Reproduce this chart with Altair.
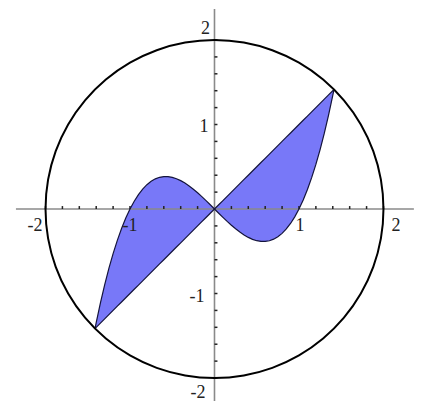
import altair as alt
import pandas as pd

curve_x = [-1.4142, -1.4, -1.35, -1.3, -1.25, -1.2, -1.15, -1.1, -1.05, -1.0, -0.95, -0.9, -0.85, -0.8, -0.75, -0.7,
           -0.65, -0.6, -0.55, -0.5, -0.45, -0.4, -0.35, -0.3, -0.25, -0.2, -0.15, -0.1, -0.05, 0.0,
           0.05, 0.1, 0.15, 0.2, 0.25, 0.3, 0.35, 0.4, 0.45, 0.5, 0.55, 0.6, 0.65, 0.7, 0.75, 0.8,
           0.85, 0.9, 0.95, 1.0, 1.05, 1.1, 1.15, 1.2, 1.25, 1.3, 1.35, 1.4, 1.4142]
curve_y = [-1.4142, -1.344, -1.1104, -0.897, -0.7031, -0.528, -0.3709, -0.231, -0.1076, 0.0, 0.0926, 0.171, 0.2359,
           0.288, 0.3281, 0.357, 0.3754, 0.384, 0.3836, 0.375, 0.3589, 0.336, 0.3071, 0.273, 0.2344, 0.192, 0.1466,
           0.099, 0.0499, 0.0,
           -0.0499, -0.099, -0.1466, -0.192, -0.2344, -0.273, -0.3071, -0.336, -0.3589, -0.375, -0.3836, -0.384,
           -0.3754, -0.357, -0.3281, -0.288, -0.2359, -0.171, -0.0926, 0.0, 0.1076, 0.231, 0.3709, 0.528, 0.7031,
           0.897, 1.1104, 1.344, 1.4142]
line_y = curve_x

circle_x = [2, 1.9696, 1.8794, 1.7321, 1.5321, 1.2856, 1.0, 0.6840, 0.3473, 0, -0.3473, -0.6840, -1.0, -1.2856,
            -1.5321, -1.7321, -1.8794, -1.9696, -2, -1.9696, -1.8794, -1.7321, -1.5321, -1.2856, -1.0, -0.6840,
            -0.3473, 0, 0.3473, 0.6840, 1.0, 1.2856, 1.5321, 1.7321, 1.8794, 1.9696]
circle_y = [0, 0.3473, 0.6840, 1.0, 1.2856, 1.5321, 1.7321, 1.8794, 1.9696, 2, 1.9696, 1.8794, 1.7321, 1.5321,
            1.2856, 1.0, 0.6840, 0.3473, 0, -0.3473, -0.6840, -1.0, -1.2856, -1.5321, -1.7321, -1.8794, -1.9696,
            -2, -1.9696, -1.8794, -1.7321, -1.5321, -1.2856, -1.0, -0.6840, -0.3473]

tick_vals = [-2.0, -1.8, -1.6, -1.4, -1.2, -1.0, -0.8, -0.6, -0.4, -0.2, 0.2, 0.4, 0.6, 0.8, 1.0, 1.2, 1.4, 1.6, 1.8, 2.0]
label_vals = [-2, -1, 1, 2]
label_text = ["-2", "-1", "1", "2"]

X_DOM = [-2.444, 2.385]
Y_DOM = [-2.272, 2.367]
xs = alt.Scale(domain=X_DOM, nice=False, zero=False)
ys = alt.Scale(domain=Y_DOM, nice=False, zero=False)

curve_df = pd.DataFrame({"x": curve_x, "y": curve_y, "yl": line_y})
circle_df = pd.DataFrame({"x": circle_x, "y": circle_y, "i": list(range(len(circle_x)))})
tick_df = pd.DataFrame({"v": tick_vals, "z": [0.0] * len(tick_vals), "t": [0.035] * len(tick_vals)})
axis_df = pd.DataFrame({"a": [-2.35], "b": [2.36], "c": [Y_DOM[0]], "d": [Y_DOM[1]], "z": [0.0]})

X = lambda f: alt.X(f, type="quantitative", scale=xs, axis=None)
Y = lambda f: alt.Y(f, type="quantitative", scale=ys, axis=None)

fill = alt.Chart(curve_df).mark_area(color="#7878f8", opacity=1).encode(
    x=X("x"), y=Y("y"), y2="yl")

xaxis = alt.Chart(axis_df).mark_rule(color="#8a8a8a", strokeWidth=1.6).encode(
    x=X("a"), x2="b", y=Y("z"))
yaxis = alt.Chart(axis_df).mark_rule(color="#8a8a8a", strokeWidth=1.6).encode(
    x=X("z"), y=Y("c"), y2="d")

xticks = alt.Chart(tick_df).mark_rule(color="#222222", strokeWidth=1.5).encode(
    x=X("v"), y=Y("z"), y2="t")
yticks = alt.Chart(tick_df).mark_rule(color="#222222", strokeWidth=1.5).encode(
    y=Y("v"), x=X("z"), x2="t")

cubic = alt.Chart(curve_df).mark_line(color="#14143c", strokeWidth=1.2).encode(
    x=X("x"), y=Y("y"))
diag = alt.Chart(curve_df).mark_line(color="#14143c", strokeWidth=1.2).encode(
    x=X("x"), y=Y("yl"))

circle = alt.Chart(circle_df).mark_line(color="black", strokeWidth=2, interpolate="cardinal-closed").encode(
    x=X("x"), y=Y("y"), order="i:Q")

lab_df = pd.DataFrame({"v": label_vals, "t": label_text, "z": [0.0] * 4})
font = dict(font="Liberation Serif", fontSize=18, color="#222222", baseline="alphabetic")


def xlab(idx, align, dx):
    return alt.Chart(lab_df.iloc[[idx]]).mark_text(align=align, dx=dx, dy=22, **font).encode(
        x=X("v"), y=Y("z"), text="t:N")


def ylab(idx, dx, dy):
    return alt.Chart(lab_df.iloc[[idx]]).mark_text(align="right", dx=dx, dy=dy, **font).encode(
        y=Y("v"), x=X("z"), text="t:N")


labels = [
    xlab(0, "right", -3), xlab(1, "center", 0), xlab(2, "center", 1), xlab(3, "left", 8),
    ylab(0, -9, 20), ylab(1, -10, 8.5), ylab(2, -6, 7.5), ylab(3, -4.5, -6),
]

chart = alt.layer(fill, xaxis, yaxis, xticks, yticks, cubic, diag, circle, *labels).properties(
    width=408, height=392, padding=0
).configure_view(stroke=None)

chart.save("out.html", embed_options={"renderer": "svg", "actions": False})
